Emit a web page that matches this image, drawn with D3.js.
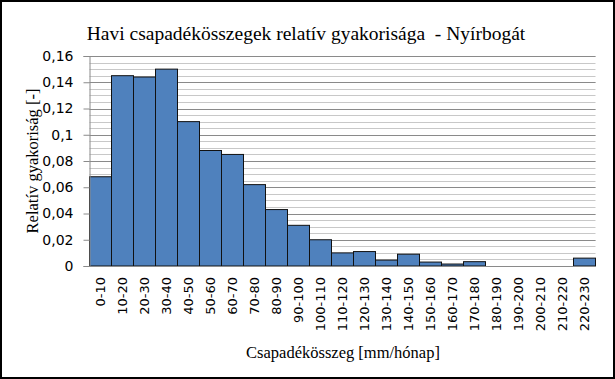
<!DOCTYPE html>
<html>
<head>
<meta charset="utf-8">
<script src="https://cdn.jsdelivr.net/npm/d3@7"></script>
<style>
  body { margin: 0; background: #fff; }
  svg { display: block; }
</style>
</head>
<body>
<svg id="chart"></svg>
<script>
// Chart data
const categories = ["0-10", "10-20", "20-30", "30-40", "40-50", "50-60", "60-70", "70-80", "80-90",
  "90-100", "100-110", "110-120", "120-130", "130-140", "140-150", "150-160", "160-170",
  "170-180", "180-190", "190-200", "200-210", "210-220", "220-230"];
const frequencies = [0.068, 0.145, 0.144, 0.150, 0.110, 0.088, 0.085, 0.062, 0.043, 0.031, 0.020,
  0.010, 0.011, 0.0045, 0.009, 0.003, 0.0015, 0.0033, 0, 0, 0, 0, 0.006];
const yTickValues = [0, 0.02, 0.04, 0.06, 0.08, 0.1, 0.12, 0.14, 0.16];

const titleText = "Havi csapadékösszegek relatív gyakorisága  - Nyírbogát";
const xTitle = "Csapadékösszeg [mm/hónap]";
const yTitle = "Relatív gyakoriság [-]";

// Size and plot area
const width = 615;
const height = 379;
const plot = { left: 89.5, right: 595.5, top: 56, bottom: 266 };

const svg = d3.select("#chart")
    .attr("width", width)
    .attr("height", height);

// Outer frame
svg.append("rect")
    .attr("x", 1).attr("y", 1)
    .attr("width", width - 2).attr("height", height - 2)
    .attr("fill", "#fff")
    .attr("stroke", "#000")
    .attr("stroke-width", 2);

// Scales
const x = d3.scaleBand()
    .domain(categories)
    .range([plot.left, plot.right])
    .padding(0);

const y = d3.scaleLinear()
    .domain([0, 0.16])
    .range([plot.bottom, plot.top]);

// Minor gridlines every 0.004, major every 0.02
svg.append("g")
    .selectAll("line")
    .data(y.ticks(40))
    .join("line")
    .attr("x1", plot.left).attr("x2", plot.right)
    .attr("y1", d => Math.round(y(d)) + 0.5)
    .attr("y2", d => Math.round(y(d)) + 0.5)
    .attr("stroke", "#c8c8c8")
    .attr("stroke-width", 1);

svg.append("g")
    .selectAll("line")
    .data(yTickValues)
    .join("line")
    .attr("x1", plot.left).attr("x2", plot.right)
    .attr("y1", d => Math.round(y(d)) + 0.5)
    .attr("y2", d => Math.round(y(d)) + 0.5)
    .attr("stroke", "#8a8a8a")
    .attr("stroke-width", 1);

// Bars
svg.append("g")
    .selectAll("rect")
    .data(frequencies)
    .join("rect")
    .attr("x", (d, i) => x(categories[i]))
    .attr("y", d => y(d))
    .attr("width", x.bandwidth())
    .attr("height", d => y(0) - y(d))
    .attr("fill", d => d > 0 ? "#4f81bd" : "none")
    .attr("stroke", d => d > 0 ? "#111" : "none")
    .attr("stroke-width", 1);

// Y axis
const fmt = v => String(+v.toFixed(2)).replace(".", ",");
const yAxis = svg.append("g")
    .attr("transform", `translate(${plot.left},0)`)
    .call(d3.axisLeft(y).tickValues(yTickValues).tickFormat(fmt).tickSize(6).tickPadding(10));
yAxis.select(".domain").attr("stroke", "#8a8a8a");
yAxis.selectAll(".tick line").attr("stroke", "#8a8a8a");
yAxis.selectAll("text")
    .attr("font-family", "DejaVu Sans")
    .attr("font-size", 14)
    .attr("fill", "#000");

// X axis
const xAxis = svg.append("g")
    .attr("transform", `translate(0,${plot.bottom})`)
    .call(d3.axisBottom(x).tickSize(0).tickPadding(0));
xAxis.select(".domain").attr("stroke", "#8a8a8a");
xAxis.selectAll("text")
    .attr("font-family", "DejaVu Sans")
    .attr("font-size", 13)
    .attr("fill", "#000")
    .attr("text-anchor", "end")
    .attr("dy", "0.35em")
    .attr("transform", "translate(0,11) rotate(-90)");

// Titles
svg.append("text")
    .attr("x", 306).attr("y", 40)
    .attr("text-anchor", "middle")
    .attr("font-family", "Liberation Serif")
    .attr("font-size", 19.5)
    .style("white-space", "pre")
    .text(titleText);

svg.append("text")
    .attr("x", 343).attr("y", 358)
    .attr("text-anchor", "middle")
    .attr("font-family", "Liberation Serif")
    .attr("font-size", 16.5)
    .text(xTitle);

svg.append("text")
    .attr("transform", "translate(38,161) rotate(-90)")
    .attr("text-anchor", "middle")
    .attr("font-family", "Liberation Serif")
    .attr("font-size", 16.5)
    .text(yTitle);
</script>
</body>
</html>
